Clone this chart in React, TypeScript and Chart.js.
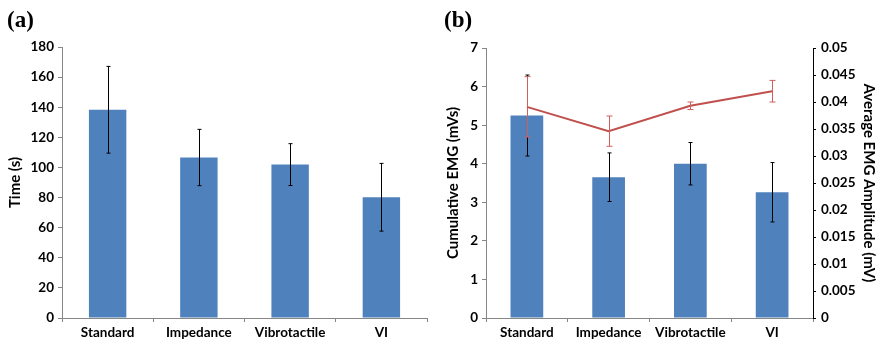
import React, { useEffect, useRef } from "react";
import { Chart, registerables } from "chart.js";
Chart.register(...registerables);

const categories = ["Standard", "Impedance", "Vibrotactile", "VI"];
const timeMeans = [138.3, 106.6, 101.9, 80.2];
const timeErrors = [28.8, 18.7, 13.9, 22.5];
const emgCumMeans = [5.25, 3.65, 4.0, 3.26];
const emgCumErrors = [1.05, 0.63, 0.55, 0.77];
const emgAmpMeans = [0.0391, 0.0346, 0.0393, 0.042];
const emgAmpErrors = [0.0056, 0.0028, 0.0007, 0.002];

const FONT = "Lato, 'Open Sans', sans-serif";
const BAR_COLOR = "#4F81BD";
const LINE_COLOR = "#C0504D";
const AXIS_GREY = "#868686";

const errorBarPlugin = {
  id: "errorBars",
  afterDatasetDraw(chart: any, args: any) {
    const ds = chart.data.datasets[args.index];
    const errs: number[] | undefined = ds.errors;
    if (!errs) return;
    const meta = chart.getDatasetMeta(args.index);
    const yScale = chart.scales[meta.yAxisID];
    const ctx = chart.ctx;
    ctx.save();
    ctx.strokeStyle = ds.errorColor || "#000";
    ctx.lineWidth = ds.errorWidth || 1;
    const cap = ds.errorCap || 2;
    meta.data.forEach((el: any, i: number) => {
      const v = ds.data[i];
      const x = Math.round(el.x) + 0.5;
      const yt = yScale.getPixelForValue(v + errs[i]);
      const yb = yScale.getPixelForValue(v - errs[i]);
      ctx.beginPath();
      ctx.moveTo(x, yt);
      ctx.lineTo(x, yb);
      ctx.moveTo(x - cap, yt);
      ctx.lineTo(x + cap, yt);
      ctx.moveTo(x - cap, yb);
      ctx.lineTo(x + cap, yb);
      ctx.stroke();
    });
    ctx.restore();
  },
};

const tickFont = { family: FONT, size: 13.5, weight: "bold" as const };
const titleFont = { family: FONT, size: 15, weight: "bold" as const };

function xScale() {
  return {
    grid: {
      offset: true,
      drawOnChartArea: false,
      drawTicks: true,
      tickLength: 4,
      color: AXIS_GREY,
    },
    border: { color: AXIS_GREY, width: 1 },
    ticks: { font: tickFont, color: "#000", padding: 3, maxRotation: 0 },
    afterFit(s: any) {
      s.height = 24;
    },
  };
}

function PanelA() {
  const ref = useRef<HTMLCanvasElement>(null);
  useEffect(() => {
    const chart = new Chart(ref.current!, {
      type: "bar",
      data: {
        labels: categories,
        datasets: [
          {
            data: timeMeans,
            backgroundColor: BAR_COLOR,
            categoryPercentage: 1,
            barPercentage: 0.41,
            errors: timeErrors,
            errorColor: "#000",
            errorCap: 2,
          } as any,
        ],
      },
      options: {
        responsive: false,
        animation: false,
        layout: { padding: { top: 47, right: 13, left: 0, bottom: 0 } },
        plugins: { legend: { display: false }, tooltip: { enabled: false } },
        scales: {
          x: xScale() as any,
          y: {
            min: 0,
            max: 180,
            ticks: { stepSize: 20, font: tickFont, color: "#000", padding: 4 },
            grid: {
              drawOnChartArea: false,
              drawTicks: true,
              tickLength: 4,
              color: AXIS_GREY,
            },
            border: { color: AXIS_GREY, width: 1 },
            title: {
              display: true,
              text: "Time (s)",
              font: titleFont,
              color: "#000",
              padding: { top: 6, bottom: 0 },
            },
            afterFit(s: any) {
              s.width = 62;
            },
          } as any,
        },
      },
      plugins: [errorBarPlugin],
    });
    return () => chart.destroy();
  }, []);
  return <canvas ref={ref} width={440} height={342} />;
}

function PanelB() {
  const ref = useRef<HTMLCanvasElement>(null);
  useEffect(() => {
    const chart = new Chart(ref.current!, {
      type: "bar",
      data: {
        labels: categories,
        datasets: [
          {
            type: "line",
            data: emgAmpMeans,
            yAxisID: "y2",
            borderColor: LINE_COLOR,
            borderWidth: 2,
            pointRadius: 0,
            fill: false,
            order: 0,
            errors: emgAmpErrors,
            errorColor: "#CF5F5C",
            errorCap: 3,
          } as any,
          {
            type: "bar",
            data: emgCumMeans,
            yAxisID: "y",
            backgroundColor: BAR_COLOR,
            categoryPercentage: 1,
            barPercentage: 0.4,
            order: 1,
            errors: emgCumErrors,
            errorColor: "#000",
            errorCap: 2,
          } as any,
        ],
      },
      options: {
        responsive: false,
        animation: false,
        layout: { padding: { top: 48, right: 0, left: 0, bottom: 0 } },
        plugins: { legend: { display: false }, tooltip: { enabled: false } },
        scales: {
          x: xScale() as any,
          y: {
            position: "left",
            min: 0,
            max: 7,
            ticks: { stepSize: 1, font: tickFont, color: "#000", padding: 4 },
            grid: {
              drawOnChartArea: false,
              drawTicks: true,
              tickLength: 4,
              color: AXIS_GREY,
            },
            border: { color: AXIS_GREY, width: 1 },
            title: {
              display: true,
              text: "Cumulative EMG (mVs)",
              font: titleFont,
              color: "#000",
              padding: { top: 4, bottom: 0 },
            },
            afterFit(s: any) {
              s.width = 46;
            },
          } as any,
          y2: {
            position: "right",
            min: 0,
            max: 0.05,
            ticks: {
              stepSize: 0.005,
              font: tickFont,
              color: "#000",
              padding: 5,
              callback: (v: any) => String(Number(Number(v).toFixed(3))),
            },
            grid: {
              drawOnChartArea: false,
              drawTicks: true,
              tickLength: 3,
              color: "#000",
            },
            border: { color: "#000", width: 1 },
            title: {
              display: true,
              text: "Average EMG Amplitude (mV)",
              font: titleFont,
              color: "#000",
              padding: { top: 0, bottom: 6 },
            },
            afterFit(s: any) {
              s.width = 65;
            },
          } as any,
        },
      },
      plugins: [errorBarPlugin],
    });
    return () => chart.destroy();
  }, []);
  return <canvas ref={ref} width={438} height={342} />;
}

const panelLabel: React.CSSProperties = {
  position: "absolute",
  fontFamily: "'Liberation Serif', 'DejaVu Serif', serif",
  fontWeight: "bold",
  fontSize: 23,
  lineHeight: "23px",
  top: 8,
  color: "#000",
};

export default function App() {
  return (
    <div
      style={{
        position: "fixed",
        left: 0,
        top: 0,
        width: 878,
        height: 342,
        background: "#fff",
      }}
    >
      <div style={{ position: "absolute", left: 0, top: 0 }}>
        <PanelA />
      </div>
      <div style={{ position: "absolute", left: 440, top: 0 }}>
        <PanelB />
      </div>
      <div style={{ ...panelLabel, left: 7 }}>(a)</div>
      <div style={{ ...panelLabel, left: 444 }}>(b)</div>
    </div>
  );
}
